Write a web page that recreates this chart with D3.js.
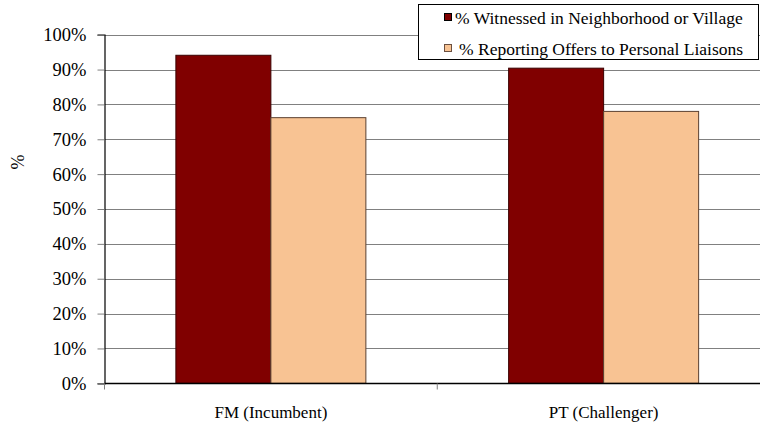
<!DOCTYPE html>
<html><head><meta charset="utf-8">
<script src="https://cdn.jsdelivr.net/npm/d3@7"></script>
<style>body{margin:0;background:#fff}svg{display:block}text{fill:#000}</style>
</head><body>
<script>
const categories = ["FM (Incumbent)", "PT (Challenger)"];
const seriesNames = ["% Witnessed in Neighborhood or Village", "% Reporting Offers to Personal Liaisons"];
const witnessed = [94.1, 90.4];
const reporting = [76.2, 78.0];
const yTicks = [0,10,20,30,40,50,60,70,80,90,100];
const colors = ["#800000", "#F8C393"];
const strokes = ["#3a0000", "#5a4030"];
const FONT = "Liberation Serif, Times New Roman, Times, DejaVu Serif, serif";

const W = 760, H = 433;
const m = {left:104.5, right:-10, top:34.7, bottom:49.7};
const svg = d3.select("body").append("svg").attr("width", W).attr("height", H)
  .attr("font-family", FONT);
const x = d3.scaleBand().domain(categories).range([m.left, W - m.right]).paddingInner(0).paddingOuter(0);
const y = d3.scaleLinear().domain([0,100]).range([H - m.bottom, m.top]);
const inner = d3.scaleBand().domain([0,1]).range([0, x.bandwidth()]).paddingInner(0).paddingOuter((x.bandwidth()-190)/2/95);

svg.append("g").selectAll("line").data(yTicks.filter(d=>d>0)).join("line")
  .attr("x1", m.left).attr("x2", W - m.right)
  .attr("y1", d=>Math.round(y(d))+0.5).attr("y2", d=>Math.round(y(d))+0.5)
  .attr("stroke", "#808080").attr("stroke-width", 1);

const series = [witnessed, reporting];
series.forEach((vals, si) => {
  svg.append("g").selectAll("rect").data(vals).join("rect")
    .attr("x", (d,i)=>x(categories[i]) + inner(si))
    .attr("width", inner.bandwidth())
    .attr("y", d=>y(d))
    .attr("height", d=>y(0)-y(d))
    .attr("fill", colors[si]).attr("stroke", strokes[si]).attr("stroke-width", 1);
});

const ya = svg.append("g").attr("transform", `translate(${m.left},0)`)
  .call(d3.axisLeft(y).tickValues(yTicks).tickFormat(d=>d+"%").tickSize(7).tickPadding(11));
ya.attr("font-family", FONT).attr("font-size", 18.5);
ya.select(".domain").attr("stroke", "#000").attr("stroke-width", 1.2);
ya.selectAll(".tick line").attr("stroke", "#808080");
ya.selectAll("text").attr("fill", "#000");

const xa = svg.append("g").attr("transform", `translate(0,${Math.round(y(0))+0.5})`);
xa.append("line").attr("x1", m.left).attr("x2", W - m.right).attr("stroke", "#000").attr("stroke-width", 1.4);
const bounds = [m.left, x(categories[1])];
xa.selectAll(".t").data(bounds).join("line")
  .attr("x1", d=>d).attr("x2", d=>d).attr("y1", 0).attr("y2", 6).attr("stroke", "#808080");
xa.selectAll(".lbl").data(categories).join("text")
  .attr("x", d=>x(d)+x.bandwidth()/2).attr("y", 34)
  .attr("text-anchor", "middle").attr("font-size", 17).text(d=>d);

svg.append("text").attr("transform", "translate(24,162) rotate(-90)")
  .attr("text-anchor", "middle").attr("font-size", 18).text("%");

const lg = svg.append("g");
lg.append("rect").attr("x", 418.5).attr("y", 4.5).attr("width", 340).attr("height", 55)
  .attr("fill", "#fff").attr("stroke", "#000").attr("stroke-width", 1);
seriesNames.forEach((name, i) => {
  const cy = 18 + i*31;
  lg.append("rect").attr("x", 444.5).attr("y", cy-4.5).attr("width", 7).attr("height", 7)
    .attr("fill", colors[i]).attr("stroke", i===0 ? "#000" : "#6b5040").attr("stroke-width", 1);
  lg.append("text").attr("x", i===0 ? 455 : 459).attr("y", cy+6).attr("font-size", 17.5).text(name);
});
</script>
</body></html>
